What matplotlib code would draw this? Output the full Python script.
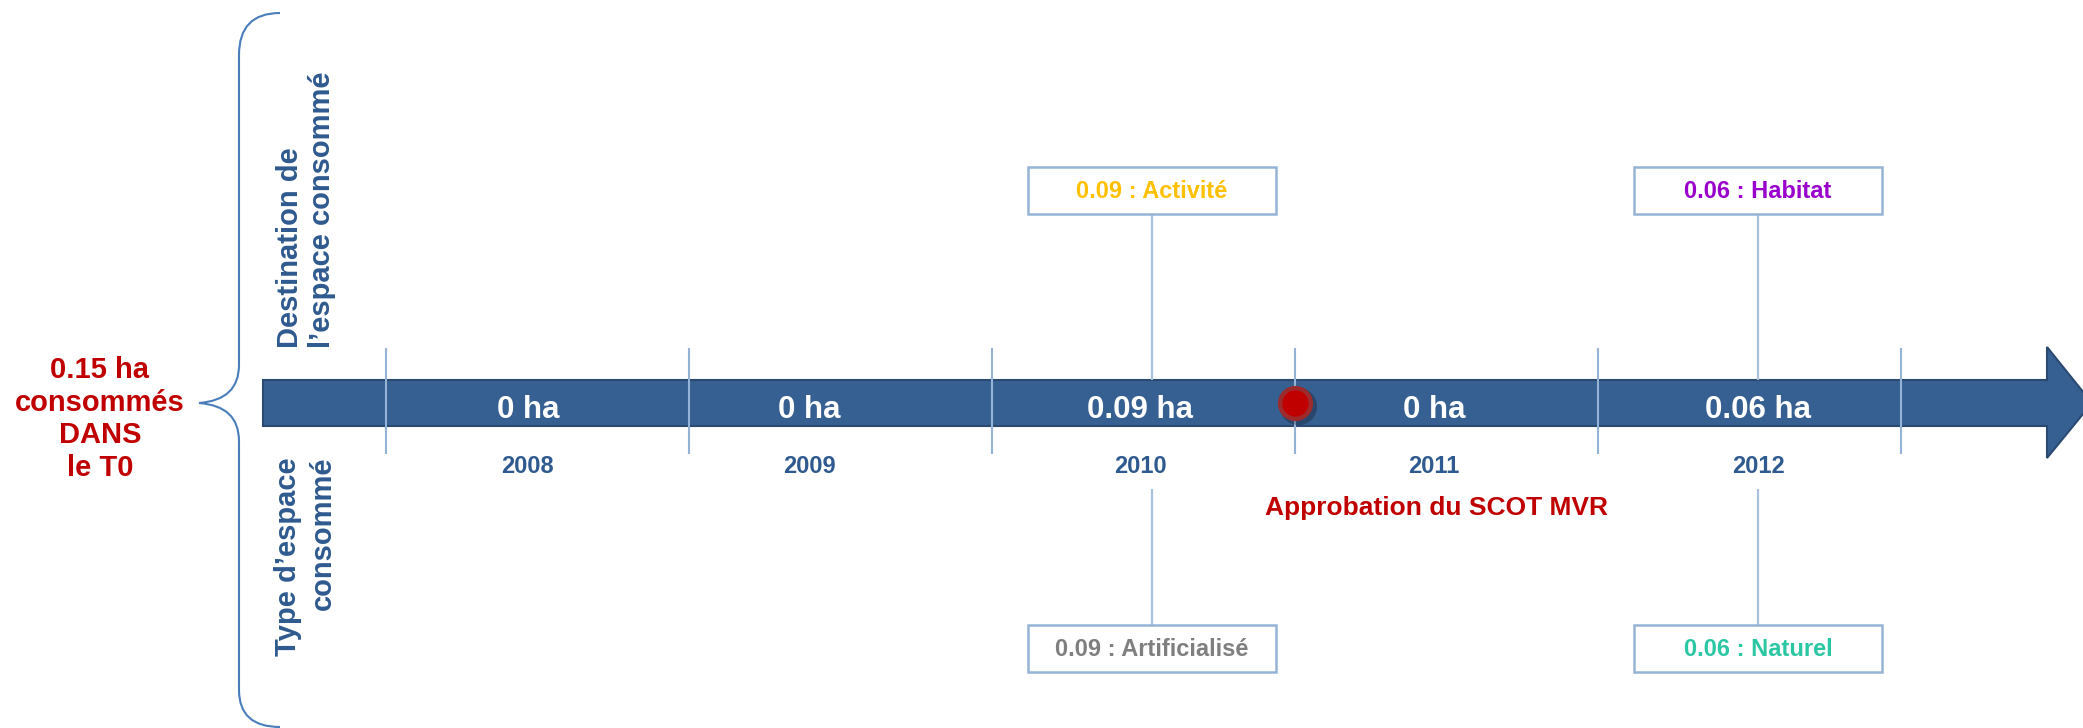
import matplotlib
matplotlib.use('agg')
import matplotlib.pyplot as plt
from matplotlib.patches import Polygon, Rectangle, PathPatch
from matplotlib.path import Path

plt.rcParams['font.family'] = ['Liberation Sans', 'DejaVu Sans']
plt.rcParams['font.weight'] = 'bold'

# data
years = [2008, 2009, 2010, 2011, 2012]
consumed_ha = [0, 0, 0.09, 0, 0.06]
destination = {2010: ('0.09 : Activité', '#FFC000'),
               2012: ('0.06 : Habitat', '#9900CC')}
space_type = {2010: ('0.09 : Artificialisé', '#7F7F7F'),
              2012: ('0.06 : Naturel', '#2BC7A3')}
total_ha = 0.15
scot_year = 2010.5
scot_label = 'Approbation du SCOT MVR'

# small label nudges (years) so labels sit where they do in the original
nudge = [-0.03, -0.10, -0.01, -0.04, 0.03]

W, H = 2083, 728
PX_PER_YEAR = 303.0
X0 = 2010 - 1143 / PX_PER_YEAR
X1 = 2010 + (W - 1143) / PX_PER_YEAR

BAR = '#376092'
BAR_EDGE = '#2A4A72'
TEXT_BLUE = '#2F5A8F'
DARK_RED = '#C00000'
LINE = '#95B3D7'

fig = plt.figure(figsize=(W / 100, H / 100), dpi=100)

# pixel canvas for the decorative parts
canvas = fig.add_axes([0, 0, 1, 1])
canvas.set_xlim(0, W)
canvas.set_ylim(H, 0)
canvas.axis('off')

# timeline axes: x in years, y in pixels
ax = fig.add_axes([0, 0, 1, 1], zorder=2)
ax.set_xlim(X0, X1)
ax.set_ylim(H, 0)
ax.axis('off')
ax.patch.set_alpha(0)

# arrow
arrow = Polygon([(263, 380), (2047, 380), (2047, 347), (2092, 403),
                 (2047, 458), (2047, 426), (263, 426)],
                closed=True, facecolor=BAR, edgecolor=BAR_EDGE, lw=1.5, zorder=1)
canvas.add_patch(arrow)

# brace
verts = [(280, 13), (239, 13), (239, 55),
         (239, 365),
         (239, 400), (199, 403),
         (239, 406), (239, 441),
         (239, 690),
         (239, 727), (280, 727)]
codes = [Path.MOVETO, Path.CURVE3, Path.CURVE3,
         Path.LINETO,
         Path.CURVE3, Path.CURVE3,
         Path.CURVE3, Path.CURVE3,
         Path.LINETO,
         Path.CURVE3, Path.CURVE3]
canvas.add_patch(PathPatch(Path(verts, codes), facecolor='none',
                           edgecolor='#4A7EBB', lw=1.5))

canvas.text(100, 419, f'{total_ha:.2f} ha\nconsommés\nDANS\nle T0', color=DARK_RED,
            fontsize=21, ha='center', va='center', linespacing=1.2)

# side labels (rotated)
canvas.text(290, 348, 'Destination de', rotation=90, color=TEXT_BLUE,
            fontsize=21, ha='center', va='bottom')
canvas.text(322, 348, 'l’espace consommé', rotation=90, color=TEXT_BLUE,
            fontsize=21, ha='center', va='bottom')
canvas.text(288, 457, 'Type d’espace', rotation=90, color=TEXT_BLUE,
            fontsize=21, ha='center', va='top')
canvas.text(323, 457, 'consommé', rotation=90, color=TEXT_BLUE,
            fontsize=21, ha='center', va='top')

# year separators
bounds = [y - 0.5 for y in years] + [years[-1] + 0.5]
ax.vlines(bounds, 348, 454, colors=LINE, lw=1.5, zorder=3)

# per-year labels
for yr, val, dx in zip(years, consumed_ha, nudge):
    txt = '0 ha' if val == 0 else f'{val:.2f} ha'
    ax.text(yr + dx, 418, txt, color='white', fontsize=22.5,
            ha='center', va='baseline', zorder=5)
    ax.text(yr + dx, 473, str(yr), color=TEXT_BLUE, fontsize=17,
            ha='center', va='baseline', zorder=5)

# annotation boxes
BOX_W = 248 / PX_PER_YEAR
for yr, (label, col) in destination.items():
    xc = yr + 0.03
    ax.add_patch(Rectangle((xc - BOX_W / 2, 167), BOX_W, 47, facecolor='white',
                           edgecolor=LINE, lw=1.8, zorder=4))
    ax.text(xc, 198, label, color=col, fontsize=17, ha='center', va='baseline', zorder=5)
    ax.vlines(xc, 214, 380, colors='#A9C0DE', lw=1.6, zorder=3)
for yr, (label, col) in space_type.items():
    xc = yr + 0.03
    ax.add_patch(Rectangle((xc - BOX_W / 2, 625), BOX_W, 47, facecolor='white',
                           edgecolor=LINE, lw=1.8, zorder=4))
    ax.text(xc, 656, label, color=col, fontsize=17, ha='center', va='baseline', zorder=5)
    ax.vlines(xc, 489, 625, colors='#A9C0DE', lw=1.6, zorder=3)

# SCOT approval marker
ax.scatter([scot_year + 0.01], [406], s=720, color='black', alpha=0.25, zorder=5, lw=0)
ax.scatter([scot_year], [403], s=640, color='#9E2B2B', zorder=6, lw=0)
ax.scatter([scot_year], [403], s=360, color=DARK_RED, zorder=7, lw=0)
ax.text(scot_year + 0.47, 515, scot_label, color=DARK_RED, fontsize=19,
        ha='center', va='baseline', zorder=5)

fig.savefig('out.png', dpi=100)
